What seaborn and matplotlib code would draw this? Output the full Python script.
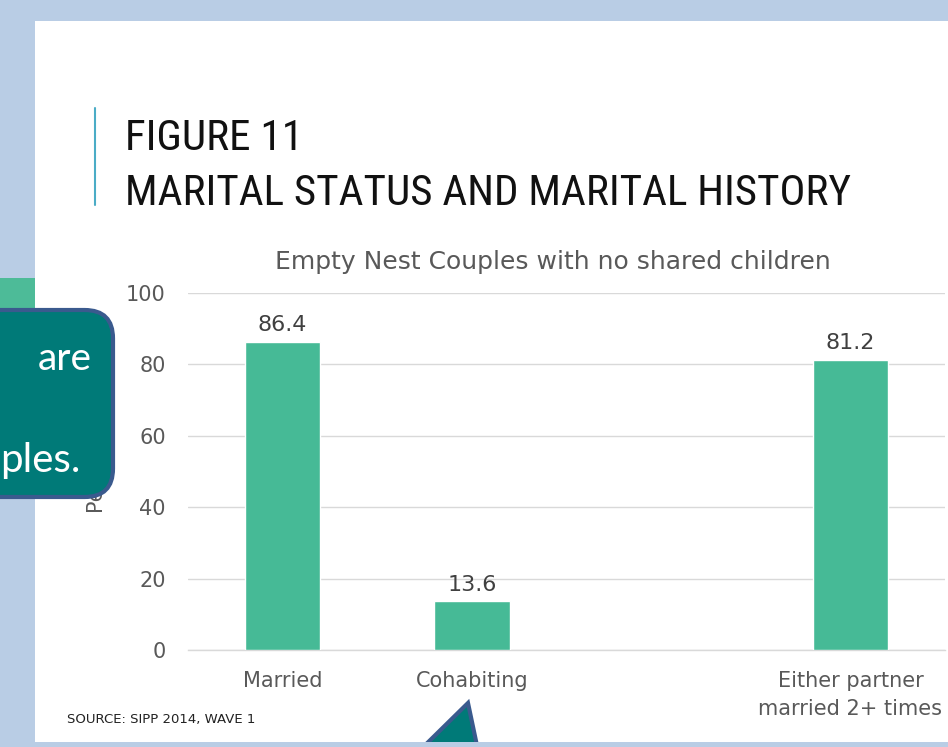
import numpy as np
import pandas as pd
import matplotlib
matplotlib.use("Agg")
import matplotlib.pyplot as plt
from matplotlib import font_manager as fm
from matplotlib.patches import Rectangle, FancyBboxPatch, Polygon
import seaborn as sns

# ---- data ----
categories = ["Married", "Cohabiting", "Either partner\nmarried 2+ times"]
values = [86.4, 13.6, 81.2]
order = ["Married", "Cohabiting", " ", "Either partner\nmarried 2+ times"]
y_ticks = [0, 20, 40, 60, 80, 100]
chart_title = "Empty Nest Couples with no shared children"
y_label = "Percent"
slide_title_1 = "FIGURE 11"
slide_title_2 = "MARITAL STATUS AND MARITAL HISTORY"
source_text = "SOURCE: SIPP 2014, WAVE 1"

sns.set_theme(style="white")
plt.rcParams["font.family"] = ["DejaVu Sans"]

# pick a narrow family for the slide title if one is installed
names = {f.name for f in fm.fontManager.ttflist}
title_family = None
title_stretch = "normal"
for cand in ["Roboto Condensed", "Open Sans Condensed", "Liberation Sans Narrow",
             "DejaVu Sans Condensed", "Noto Sans Condensed"]:
    if cand in names:
        title_family = cand
        break
if title_family is None:
    title_family = "DejaVu Sans"
    title_stretch = "condensed"

W, H = 948, 747
fig = plt.figure(figsize=(W / 100, H / 100), dpi=100)
fig.patch.set_facecolor("#B9CDE5")


def fx(px):
    return px / W


def fy(py):
    return (H - py) / H


# white slide
fig.add_artist(Rectangle((fx(35), fy(742)), fx(948) - fx(35) + 0.01, fy(21) - fy(742),
                         transform=fig.transFigure, facecolor="white", edgecolor="none", zorder=-2))

# chart axes
ax_left, ax_right, ax_top, ax_bot = 188, 945, 293, 650
ax = fig.add_axes([fx(ax_left), fy(ax_bot), fx(ax_right) - fx(ax_left), fy(ax_top) - fy(ax_bot)])
ax.set_facecolor("none")

df = pd.DataFrame({"cat": categories, "val": values})
sns.barplot(data=df, x="cat", y="val", order=order, color="#46BA96", saturation=1,
            width=0.4, ax=ax, zorder=3)

ax.set_ylim(0, 100)
ax.set_xlim(-0.5, 3.5)
ax.set_yticks(y_ticks)
ax.yaxis.grid(True, color="#D9D9D9", linewidth=1.0, zorder=0)
ax.set_axisbelow(True)
for s in ["top", "right", "left"]:
    ax.spines[s].set_visible(False)
ax.spines["bottom"].set_color("#D9D9D9")
ax.spines["bottom"].set_linewidth(1.0)
ax.tick_params(axis="both", length=0, labelsize=15, colors="#595959")
ax.tick_params(axis="y", pad=16)
ax.tick_params(axis="x", pad=15)
for lab in ax.get_xticklabels():
    lab.set_linespacing(1.5)
ax.set_xlabel("")
ax.set_ylabel(y_label, fontsize=15, color="#595959")
ax.yaxis.set_label_coords((105 - ax_left) / (ax_right - ax_left), 0.5)

for cont in ax.containers:
    ax.bar_label(cont, fmt="%.1f", padding=5, fontsize=16, color="#404040")

fig.text(fx(553), fy(262), chart_title, ha="center", va="center", fontsize=18, color="#595959")

# slide title
fig.add_artist(plt.Line2D([fx(95), fx(95)], [fy(108), fy(205)], transform=fig.transFigure,
                          color="#4BACC6", linewidth=1.5))
t1 = fig.text(fx(125), fy(150), slide_title_1, ha="left", va="baseline", fontsize=40,
              color="#111111", family=title_family, fontstretch=title_stretch)
t2 = fig.text(fx(125), fy(205), slide_title_2, ha="left", va="baseline", fontsize=40,
              color="#111111", family=title_family, fontstretch=title_stretch)
# shrink title to the slide's width
fig.canvas.draw()
rend = fig.canvas.get_renderer()
w2 = t2.get_window_extent(rend).width
target = 725.0
if w2 > target:
    fs = 40 * target / w2
    t1.set_fontsize(fs)
    t2.set_fontsize(fs)

fig.text(fx(67), fy(723), source_text, ha="left", va="baseline", fontsize=9.5, color="#222222")

# decorations on the slide background
fig.add_artist(Rectangle((fx(0), fy(310)), fx(35), fy(278) - fy(310), transform=fig.transFigure,
                         facecolor="#4DBB98", edgecolor="none", zorder=4))
fig.add_artist(FancyBboxPatch((fx(-200), fy(497)), fx(313), fy(310) - fy(497),
                              boxstyle="round,pad=0,rounding_size=0.03",
                              transform=fig.transFigure, facecolor="#007A78",
                              edgecolor="#3A5A8E", linewidth=3, zorder=5,
                              mutation_aspect=W / H))
fig.text(fx(38), fy(370), "are", ha="left", va="baseline", fontsize=28, color="white",
         zorder=6, family=["Lato", "DejaVu Sans"])
fig.text(fx(0), fy(472), "ples.", ha="left", va="baseline", fontsize=29, color="white",
         zorder=6, family=["Lato", "DejaVu Sans"])

fig.add_artist(Polygon([(fx(468), fy(703)), (fx(480), fy(760)), (fx(410), fy(760))], closed=True,
                       transform=fig.transFigure, facecolor="#007A78", edgecolor="#3A5A8E",
                       linewidth=3, zorder=5))
fig.add_artist(Rectangle((fx(0), fy(760)), 1.0, fy(742) - fy(760), transform=fig.transFigure,
                         facecolor="#B9CDE5", edgecolor="none", zorder=7))

fig.savefig("out.png", dpi=100, facecolor=fig.get_facecolor())
